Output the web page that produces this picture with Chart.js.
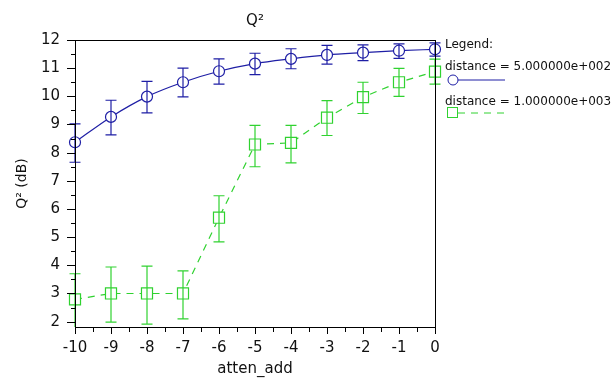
<!DOCTYPE html>
<html>
<head>
<meta charset="utf-8">
<script src="https://cdn.jsdelivr.net/npm/chart.js@4/dist/chart.umd.min.js"></script>
<style>
  html, body { margin: 0; padding: 0; background: #fff; }
  #wrap { width: 615px; height: 380px; }
</style>
</head>
<body>
<div id="wrap"><canvas id="chart" width="615" height="380"></canvas></div>
<script>
// atten_add sweep
var attenAdd = [-10, -9, -8, -7, -6, -5, -4, -3, -2, -1, 0]

// distance = 500
var q2Near = [8.37, 9.27, 9.99, 10.50, 10.89, 11.16, 11.33, 11.47, 11.55, 11.62, 11.67]
var q2NearLow = [7.66, 8.63, 9.41, 9.98, 10.43, 10.77, 10.98, 11.14, 11.27, 11.35, 11.43]
var q2NearHigh = [9.02, 9.86, 10.53, 11.00, 11.33, 11.53, 11.69, 11.81, 11.83, 11.86, 11.90]

// distance = 1000
var q2Far = [2.79, 3.00, 3.00, 3.00, 5.69, 8.29, 8.35, 9.24, 9.97, 10.50, 10.88]
var q2FarLow = [1.70, 1.98, 1.91, 2.10, 4.83, 7.50, 7.64, 8.61, 9.39, 10.00, 10.43]
var q2FarHigh = [3.70, 3.94, 3.97, 3.80, 6.47, 8.97, 8.97, 9.85, 10.50, 10.99, 11.32]

var seriesLabels = ['distance = 5.000000e+002', 'distance = 1.000000e+003']

var BLUE = 'rgb(30, 30, 165)'
var GREEN = 'rgb(48, 210, 48)'
var TEXT = '#111'
var FONT = '"DejaVu Sans", Arial, sans-serif'

function toPoints(xs, ys) {
    return xs.map((x, i) => ({x: x, y: ys[i]}))
}

// vertical error bars with caps, drawn on top of the markers
var errorBars = {
    id: 'errorBars',
    afterDatasetsDraw(chart) {
        let ctx = chart.ctx
        let yScale = chart.scales.y
        let area = chart.chartArea
        ctx.save()
        chart.data.datasets.forEach((ds, di) => {
            let meta = chart.getDatasetMeta(di)
            ctx.strokeStyle = ds.borderColor
            ctx.lineWidth = 1.2
            ctx.setLineDash([])
            meta.data.forEach((pt, i) => {
                let yLo = Math.min(yScale.getPixelForValue(ds.errLow[i]), area.bottom)
                let yHi = yScale.getPixelForValue(ds.errHigh[i])
                let x = pt.x
                ctx.beginPath()
                ctx.moveTo(x, yLo)
                ctx.lineTo(x, yHi)
                ctx.moveTo(x - 5.5, yHi)
                ctx.lineTo(x + 5.5, yHi)
                if (yLo < area.bottom) {
                    ctx.moveTo(x - 5.5, yLo)
                    ctx.lineTo(x + 5.5, yLo)
                }
                ctx.stroke()
            })
        })
        ctx.restore()
    }
}

// box around the plot, major and minor ticks, and the legend on the right
var frame = {
    id: 'frame',
    afterDraw(chart) {
        let ctx = chart.ctx
        let area = chart.chartArea
        let xs = chart.scales.x
        let ys = chart.scales.y
        ctx.save()
        ctx.strokeStyle = '#000'
        ctx.lineWidth = 1
        ctx.setLineDash([])
        ctx.strokeRect(Math.round(area.left) + 0.5, Math.round(area.top) + 0.5,
            Math.round(area.right - area.left), Math.round(area.bottom - area.top))

        ctx.beginPath()
        for (let v = 2; v <= 12; v += 0.5) {
            let y = Math.round(ys.getPixelForValue(v)) + 0.5
            let len = Number.isInteger(v) ? 8 : 4
            ctx.moveTo(area.left, y)
            ctx.lineTo(area.left - len, y)
        }
        for (let v = -10; v <= 0; v += 0.5) {
            let x = Math.round(xs.getPixelForValue(v)) + 0.5
            let len = Number.isInteger(v) ? 7 : 5
            ctx.moveTo(x, area.bottom)
            ctx.lineTo(x, area.bottom + len)
        }
        ctx.stroke()

        // legend
        let lx = area.right + 10
        ctx.fillStyle = TEXT
        ctx.font = '12px ' + FONT
        ctx.textBaseline = 'middle'
        ctx.textAlign = 'left'
        ctx.fillText('Legend:', lx, 45)
        ctx.fillText(seriesLabels[0], lx, 67)
        ctx.fillText(seriesLabels[1], lx, 102)

        ctx.strokeStyle = BLUE
        ctx.beginPath()
        ctx.moveTo(lx + 8, 80)
        ctx.lineTo(lx + 60, 80)
        ctx.stroke()
        ctx.fillStyle = '#fff'
        ctx.beginPath()
        ctx.arc(lx + 8, 80, 5, 0, Math.PI * 2)
        ctx.fill()
        ctx.stroke()

        ctx.strokeStyle = GREEN
        ctx.setLineDash([7, 6])
        ctx.beginPath()
        ctx.moveTo(lx + 13, 113)
        ctx.lineTo(lx + 60, 113)
        ctx.stroke()
        ctx.setLineDash([])
        ctx.fillRect(lx + 2, 108, 11, 11)
        ctx.strokeRect(lx + 2.5, 107.5, 10, 10)
        ctx.restore()
    }
}

var ctx = document.getElementById('chart').getContext('2d')
var chart = new Chart(ctx, {
    type: 'line',
    plugins: [errorBars, frame],
    data: {
        datasets: [{
            label: seriesLabels[0],
            data: toPoints(attenAdd, q2Near),
            errLow: q2NearLow,
            errHigh: q2NearHigh,
            borderColor: BLUE,
            backgroundColor: '#fff',
            borderWidth: 1.2,
            pointStyle: 'circle',
            pointRadius: 5.5,
            pointBorderWidth: 1.2,
            cubicInterpolationMode: 'monotone'
        }, {
            label: seriesLabels[1],
            data: toPoints(attenAdd, q2Far),
            errLow: q2FarLow,
            errHigh: q2FarHigh,
            borderColor: GREEN,
            backgroundColor: '#fff',
            borderWidth: 1.2,
            borderDash: [7, 6],
            pointStyle: 'rect',
            pointRadius: 7.8,
            pointBorderWidth: 1.2
        }]
    },
    options: {
        responsive: false,
        animation: false,
        clip: false,
        layout: {
            padding: {top: 0, right: 180, bottom: 0, left: 0}
        },
        plugins: {
            legend: {display: false},
            tooltip: {enabled: false},
            title: {
                display: true,
                fullSize: false,
                text: 'Q²',
                color: TEXT,
                font: {family: FONT, size: 15, weight: 'normal'},
                padding: {top: 12, bottom: 10}
            }
        },
        scales: {
            x: {
                type: 'linear',
                min: -10,
                max: 0,
                grid: {display: false, drawTicks: false},
                border: {display: false},
                ticks: {
                    stepSize: 1,
                    padding: 12,
                    color: TEXT,
                    font: {family: FONT, size: 15},
                    maxRotation: 0
                },
                title: {
                    display: true,
                    text: 'atten_add',
                    color: TEXT,
                    font: {family: FONT, size: 15},
                    padding: {top: 2, bottom: 2}
                },
                afterFit(scale) { scale.height = 53 }
            },
            y: {
                min: 1.81,
                max: 12,
                grid: {display: false, drawTicks: false},
                border: {display: false},
                ticks: {
                    stepSize: 1,
                    includeBounds: false,
                    padding: 15,
                    color: TEXT,
                    font: {family: FONT, size: 15}
                },
                title: {
                    display: true,
                    text: 'Q² (dB)',
                    color: TEXT,
                    font: {family: FONT, size: 14},
                    padding: {top: 14, bottom: 0}
                },
                afterFit(scale) { scale.width = 75 }
            }
        }
    }
})
</script>
</body>
</html>
